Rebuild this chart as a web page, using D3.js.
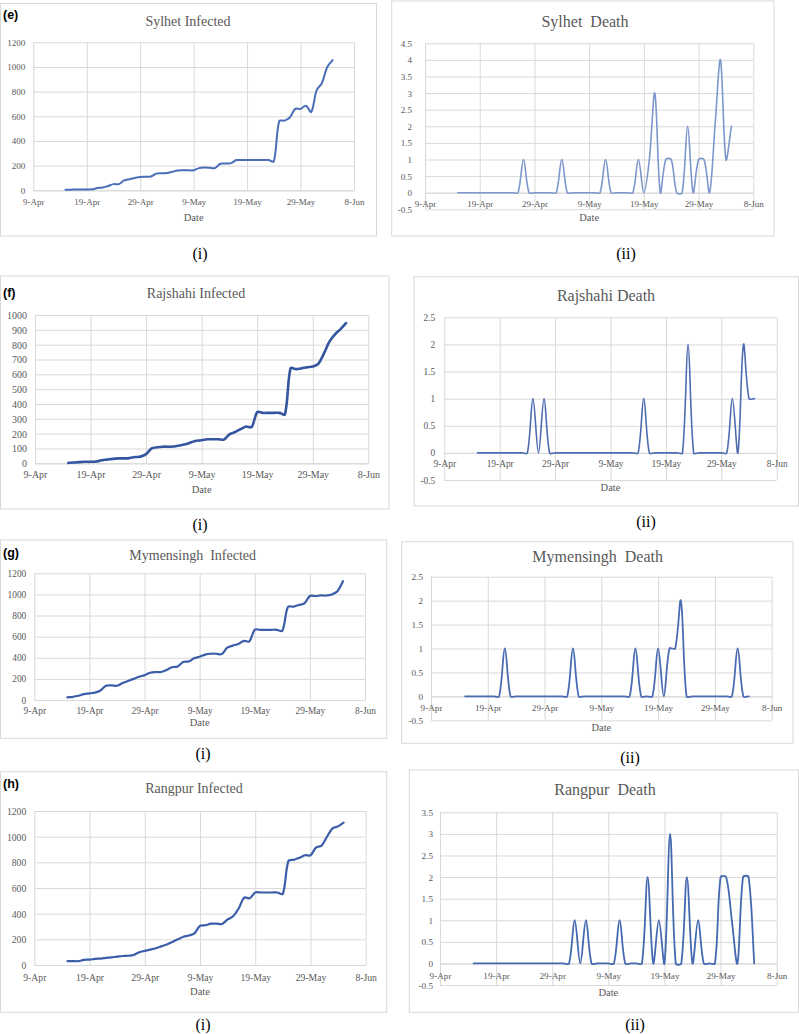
<!DOCTYPE html>
<html><head><meta charset="utf-8">
<script src="https://cdn.jsdelivr.net/npm/d3@7/dist/d3.min.js"></script>
<style>
body{margin:0;background:#fff;}
svg{display:block;}
</style></head><body>
<svg id="fig" width="799" height="1034"></svg>
<script>
// ---------- DATA ----------
// daily categories: 15-Apr-2020 .. 4-Jun-2020 (51 days)
const dates = d3.timeDay.range(new Date(2020, 3, 15), new Date(2020, 5, 5));
const tickLabels = ["9-Apr", "19-Apr", "29-Apr", "9-May", "19-May", "29-May", "8-Jun"];
const axisStart = "9-Apr-2020", axisEnd = "8-Jun-2020";

const sylhetInfected = [5,5,6,6,7,8,18,22,35,50,50,80,90,100,108,110,112,135,138,140,150,160,162,162,163,180,185,183,180,215,218,220,245,245,245,245,245,245,245,235,560,565,590,660,660,685,635,810,870,1000,1055];
const sylhetDeath = [0,0,0,0,0,0,0,0,0,0,0,0,1,0,0,0,0,0,0,1,0,0,0,0,0,0,0,1,0,0,0,0,0,1,0,1,3,0,1,1,0,0,2,0,1,1,0,2,4,1,2];

const rajshahiInfected = [3,5,8,10,10,12,20,25,30,33,33,35,42,45,62,100,108,112,112,113,120,128,140,152,155,162,162,162,160,195,210,230,248,245,345,340,340,340,340,330,640,635,640,648,652,670,740,820,870,905,945];
const rajshahiDeath = [0,0,0,0,0,0,0,0,0,0,1,0,1,0,0,0,0,0,0,0,0,0,0,0,0,0,0,0,0,0,1,0,0,0,0,0,0,0,2,0,0,0,0,0,0,0,1,0,2,1,1];

const mymensinghInfected = [25,30,40,55,62,70,90,135,138,135,160,180,200,220,235,258,265,265,285,310,318,360,365,395,410,430,438,438,435,495,515,530,560,555,665,665,665,665,665,655,880,885,900,915,985,985,990,990,1000,1030,1125];
const mymensinghDeath = [0,0,0,0,0,0,0,1,0,0,0,0,0,0,0,0,0,0,0,1,0,0,0,0,0,0,0,0,0,0,1,0,0,0,1,0,1,1,2,0,0,0,0,0,0,0,0,0,1,0,0];

const rangpurInfected = [30,30,30,40,42,48,50,55,60,65,70,72,78,100,110,120,130,145,160,180,200,220,230,247,305,310,322,322,320,355,380,440,525,520,565,565,565,565,565,555,810,820,835,855,855,915,930,1000,1065,1080,1110];
const rangpurDeath = [0,0,0,0,0,0,0,0,0,0,0,0,0,0,0,0,0,0,1,0,1,0,0,0,0,0,1,0,0,0,0,2,0,1,0,3,0,0,2,0,1,0,0,0,2,2,1,0,2,2,0];

// ---------- LAYOUT ----------
const parseD = d3.timeParse("%d-%b-%Y");
const tickDates = tickLabels.map(s => parseD(s + "-2020"));
const xDomain = [parseD(axisStart), parseD(axisEnd)];

const SERIF = "'Liberation Serif','Times New Roman',serif";
const SANS = "'Liberation Sans',Arial,sans-serif";
const GRID = "#d9d9d9", TXT = "#595959";

const panels = [
  {title:"Sylhet Infected", series:sylhetInfected, yDomain:[0,1200], yStep:200,
   frame:[0.5,3.5,376.5,236], plot:[33.3,354,42.3,190.3], titleXY:[188,21], titleSize:14,
   xLabelY:202, dateY:217, gap:8, tickSize:9, letter:"(e)", letterY:15,
   color:"#4a6fb8", width:2},
  {title:"Sylhet  Death", series:sylhetDeath, yDomain:[-0.5,4.5], yStep:0.5,
   frame:[391.7,1,774,236], plot:[425,753.3,43.3,209.3], titleXY:[585,21], titleSize:16,
   xLabelY:204, dateY:217, gap:13, tickSize:9,
   color:"#7d97cc", width:1.6},
  {title:"Rajshahi Infected", series:rajshahiInfected, yDomain:[0,1000], yStep:100,
   frame:[0.5,276,389,509], plot:[35,368.3,315,463.3], titleXY:[196,293], titleSize:14,
   xLabelY:475, dateY:489.3, gap:8, tickSize:10, letter:"(f)", letterY:293,
   color:"#34559f", width:2.6},
  {title:"Rajshahi Death", series:rajshahiDeath, yDomain:[-0.5,2.5], yStep:0.5,
   frame:[414,276.7,798.5,506], plot:[444.3,776.7,317.3,480], titleXY:[606,295], titleSize:16,
   xLabelY:464, dateY:487.3, gap:9, tickSize:9.4,
   color:"#4d6db0", width:1.6},
  {title:"Mymensingh  Infected", series:mymensinghInfected, yDomain:[0,1200], yStep:200,
   frame:[0.5,540,386.7,738.3], plot:[34.3,365,573.3,700], titleXY:[192.7,555], titleSize:14,
   xLabelY:711, dateY:722.7, gap:8, tickSize:9.4, letter:"(g)", letterY:553,
   color:"#3b5ea8", width:2.2},
  {title:"Mymensingh  Death", series:mymensinghDeath, yDomain:[-0.5,2.5], yStep:0.5,
   frame:[401.7,541.7,793,743.3], plot:[431,771.7,576.7,720.3], titleXY:[597.7,556.7], titleSize:16,
   xLabelY:707.7, dateY:727, gap:8, tickSize:9.2,
   color:"#4a6cb2", width:1.8},
  {title:"Rangpur Infected", series:rangpurInfected, yDomain:[0,1200], yStep:200,
   frame:[0.5,771.7,386.7,1012.3], plot:[34.3,365.7,811,965], titleXY:[194,788.3], titleSize:14,
   xLabelY:977.3, dateY:991.7, gap:8, tickSize:9.7, letter:"(h)", letterY:784,
   color:"#3b5ea8", width:2.2},
  {title:"Rangpur  Death", series:rangpurDeath, yDomain:[-0.5,3.5], yStep:0.5,
   frame:[409.3,770,798.5,1012.3], plot:[440,776.7,812.3,985], titleXY:[605,789], titleSize:16,
   xLabelY:975.7, dateY:992.7, gap:7, tickSize:9.2,
   color:"#4569b0", width:1.8}
];

const subLabels = [
  {text:"(i)", x:200, y:253}, {text:"(ii)", x:626, y:253},
  {text:"(i)", x:200, y:524}, {text:"(ii)", x:646, y:521},
  {text:"(i)", x:203, y:753}, {text:"(ii)", x:630, y:757.7},
  {text:"(i)", x:203, y:1024.5}, {text:"(ii)", x:635, y:1024.5}
];

// ---------- Excel-style smoothed line curve for d3.line ----------
function ExcelSmooth(context) { this._context = context; }
ExcelSmooth.prototype = {
  areaStart() { this._line = 0; },
  areaEnd() { this._line = NaN; },
  lineStart() { this._pts = []; },
  point(x, y) { this._pts.push([+x, +y]); },
  lineEnd() {
    const p = this._pts, c = this._context, n = p.length;
    if (!n) return;
    c.moveTo(p[0][0], p[0][1]);
    if (n === 1) return;
    const dist = (a, b) => Math.hypot(b[0] - a[0], b[1] - a[1]);
    for (let i = 0; i < n - 1; i++) {
      const p0 = p[Math.max(i - 1, 0)], p1 = p[i], p2 = p[i + 1], p3 = p[Math.min(i + 2, n - 1)];
      const d01 = dist(p0, p1), d12 = dist(p1, p2), d23 = dist(p2, p3);
      const f1 = (d01 + d12) > 0 ? d12 / (d01 + d12) / 3 : 0;
      const f2 = (d12 + d23) > 0 ? d12 / (d12 + d23) / 3 : 0;
      const c1x = p1[0] + (p2[0] - p0[0]) * f1, c1y = p1[1] + (p2[1] - p0[1]) * f1;
      const c2x = p2[0] - (p3[0] - p1[0]) * f2, c2y = p2[1] - (p3[1] - p1[1]) * f2;
      c.bezierCurveTo(c1x, c1y, c2x, c2y, p2[0], p2[1]);
    }
  }
};
const curveExcel = ctx => new ExcelSmooth(ctx);

// ---------- DRAW ----------
const svg = d3.select("#fig");
svg.append("rect").attr("width",799).attr("height",1034).attr("fill","#fff");

function drawPanel(p) {
  const g = svg.append("g");
  const [fx0, fy0, fx1, fy1] = p.frame;
  g.append("rect").attr("x", fx0).attr("y", fy0).attr("width", fx1 - fx0).attr("height", fy1 - fy0)
    .attr("fill", "#fff").attr("stroke", GRID).attr("stroke-width", 1);

  const [xl, xr, yt, yb] = p.plot;
  const x = d3.scaleTime().domain(xDomain).range([xl, xr]);
  const y = d3.scaleLinear().domain(p.yDomain).range([yb, yt]);
  const yTicks = d3.range(p.yDomain[0], p.yDomain[1] + p.yStep / 2, p.yStep).map(v => +v.toFixed(2));
  const yFmt = p.yStep < 1 ? (d => String(+d.toFixed(1))) : d3.format("d");

  // horizontal gridlines + y labels
  g.append("g").attr("transform", `translate(${xl},0)`)
    .call(d3.axisLeft(y).tickValues(yTicks).tickSize(-(xr - xl)).tickPadding(p.gap).tickFormat(yFmt))
    .call(s => {
      s.select(".domain").remove();
      s.selectAll("line").attr("stroke", GRID).attr("stroke-width", 1);
      s.selectAll("text").attr("fill", TXT).attr("font-family", SERIF).attr("font-size", p.tickSize)
        .attr("dy", null).attr("dominant-baseline", "central");
    });

  // vertical gridlines
  g.append("g").attr("transform", `translate(0,${yb})`)
    .call(d3.axisBottom(x).tickValues(tickDates).tickSize(-(yb - yt)).tickFormat(""))
    .call(s => {
      s.select(".domain").remove();
      s.selectAll("line").attr("stroke", GRID).attr("stroke-width", 1);
    });

  // x labels (axis crosses at 0)
  const y0 = y(0);
  g.append("g").attr("transform", `translate(0,${y0})`)
    .call(d3.axisBottom(x).tickValues(tickDates).tickSize(0).tickFormat((d, i) => tickLabels[i]))
    .call(s => {
      s.select(".domain").attr("stroke", GRID);
      s.selectAll("text").attr("fill", TXT).attr("font-family", SERIF).attr("font-size", p.tickSize)
        .attr("y", p.xLabelY - y0).attr("dy", null).attr("dominant-baseline", "central");
    });

  // axis title
  g.append("text").attr("x", (xl + xr) / 2).attr("y", p.dateY).attr("text-anchor", "middle")
    .attr("dominant-baseline", "central").attr("font-family", SERIF).attr("font-size", 10.5)
    .attr("fill", TXT).text("Date");

  // chart title
  g.append("text").attr("x", p.titleXY[0]).attr("y", p.titleXY[1]).attr("text-anchor", "middle")
    .attr("dominant-baseline", "central").attr("font-family", SERIF).attr("font-size", p.titleSize)
    .attr("fill", TXT).attr("xml:space", "preserve").style("white-space", "pre").text(p.title);

  if (p.letter) {
    g.append("text").attr("x", fx0 + 2.5).attr("y", p.letterY).attr("dominant-baseline", "central")
      .attr("font-family", SANS).attr("font-weight", "bold").attr("font-size", 12.5)
      .attr("fill", "#000").text(p.letter);
  }

  const pts = p.series.map((v, i) => ({date: dates[i], v}));
  const line = d3.line().x(d => x(d.date)).y(d => y(d.v)).curve(curveExcel);
  g.append("path").datum(pts).attr("d", line).attr("fill", "none")
    .attr("stroke", p.color).attr("stroke-width", p.width)
    .attr("stroke-linejoin", "round").attr("stroke-linecap", "round");
}

panels.forEach(drawPanel);

svg.selectAll("text.sub").data(subLabels).enter().append("text").attr("class", "sub")
  .attr("x", d => d.x).attr("y", d => d.y).attr("text-anchor", "middle").attr("dominant-baseline", "central")
  .attr("font-family", SERIF).attr("font-size", 16).attr("fill", "#000").text(d => d.text);
</script>
</body></html>
